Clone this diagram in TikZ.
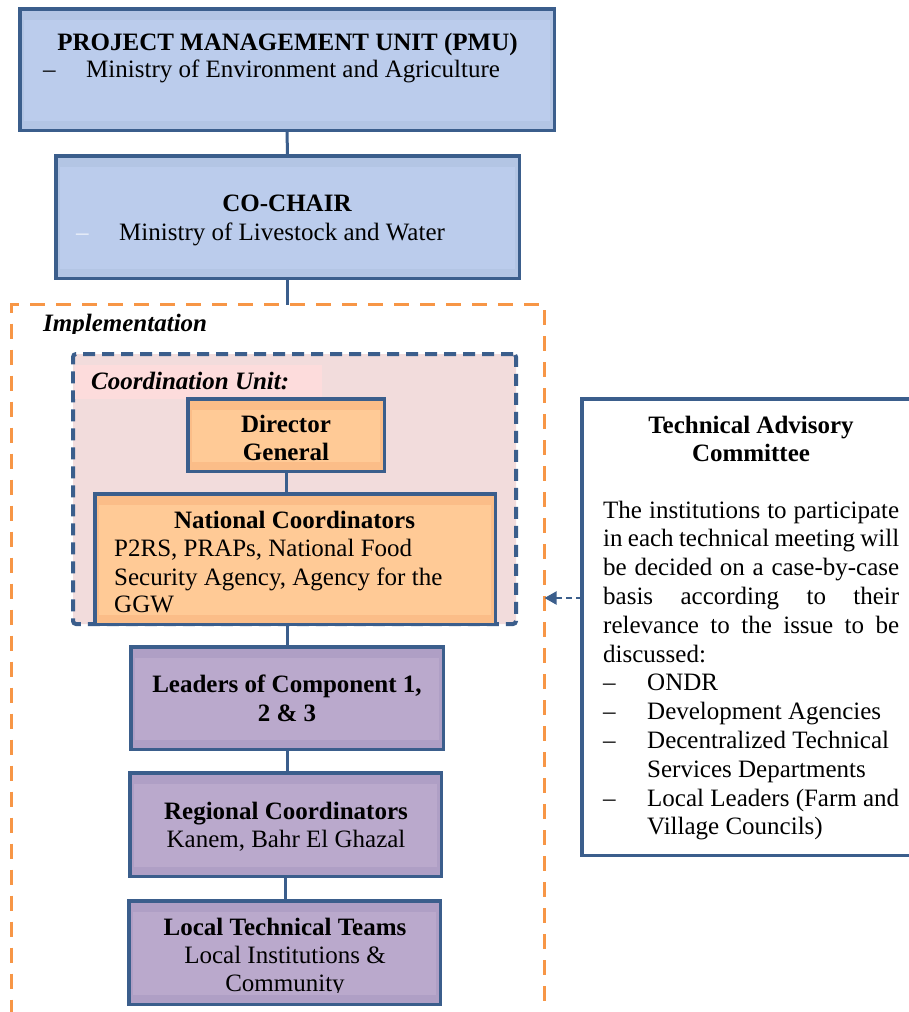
\documentclass[tikz,border=0pt]{standalone}
\usepackage{fontspec}
\setmainfont{Liberation Serif}
\usetikzlibrary{arrows.meta}
\definecolor{bdr}{HTML}{3B5E8C}
\definecolor{blueband}{HTML}{B3C5E4}
\definecolor{bluefill}{HTML}{BBCCEC}
\definecolor{orgband}{HTML}{FBBD88}
\definecolor{orgfill}{HTML}{FFCA96}
\definecolor{purband}{HTML}{AF9FC5}
\definecolor{purfill}{HTML}{BAA9CC}
\definecolor{cupink}{HTML}{F2DCDC}
\definecolor{lblpink}{HTML}{FDDCDC}
\definecolor{impor}{HTML}{F79646}
\newcommand\bigsz{\fontsize{25pt}{28.8pt}\selectfont}
\tikzset{
  box/.style={draw=bdr, line width=3.5pt, rectangle, inner sep=0pt, outer sep=0pt},
  shade3d/.style={path picture={\fill[#1] ([xshift=4pt,yshift=-11pt]path picture bounding box.north west) rectangle ([xshift=-4pt,yshift=9pt]path picture bounding box.south east);}},
  bluebox/.style={box, fill=blueband, shade3d=bluefill},
  orgbox/.style={box, fill=orgband, shade3d=orgfill},
  purbox/.style={box, fill=purband, shade3d=purfill},
  tacbox/.style={box, fill=white},
  cubox/.style={draw=bdr, line width=4pt, fill=cupink, dash pattern=on 12pt off 7pt, rounded corners=3pt, rectangle, inner sep=0pt, outer sep=0pt},
  implbox/.style={draw=impor, line width=3pt, dash pattern=on 15pt off 11pt, rectangle, inner sep=0pt, outer sep=0pt},
  conn/.style={draw=bdr, line width=3pt},
  arr/.style={draw=bdr, line width=2pt, dash pattern=on 6pt off 4pt, -{Triangle[length=12pt,width=13pt]}},
  txt/.style={anchor=base, inner sep=0pt},
  ltxt/.style={anchor=base west, inner sep=0pt},
  bold/.style={font=\bigsz\bfseries},
  bi/.style={font=\bigsz\bfseries\itshape},
}
\begin{document}
\begin{tikzpicture}[x=1pt,y=-1pt, font=\bigsz]
\useasboundingbox (0,0) rectangle (909,1012);
\fill[white] (0,0) rectangle (909,1012);

% frames
\node[implbox, minimum width=533pt, minimum height=735pt] (impl) at (278,672) {};
\node[cubox, minimum width=443pt, minimum height=270pt] (cu) at (294.5,489) {};
\fill[lblpink] (75,365) rectangle (322,399);

% boxes
\node[bluebox, minimum width=534.5pt, minimum height=121.5pt] (pmu) at (287,69.5) {};
\node[bluebox, minimum width=463.5pt, minimum height=122.5pt] (co) at (287.5,217) {};
\node[orgbox, minimum width=196.5pt, minimum height=72.5pt] (dg) at (286,435) {};
\node[orgbox, minimum width=400.5pt, minimum height=130.5pt] (nc) at (295,559) {};
\node[purbox, minimum width=312.5pt, minimum height=102.5pt] (lead) at (287,698) {};
\node[purbox, minimum width=311.5pt, minimum height=103.5pt] (reg) at (285.5,824.5) {};
\node[purbox, minimum width=311.5pt, minimum height=103.5pt] (loc) at (284.5,952.5) {};
\node[tacbox, minimum width=341.25pt, minimum height=456.5pt] (tac) at (752.4,627) {};

% connectors
\draw[conn] (pmu.south) -- (co.north);
\draw[conn] (co.south) -- (co.south |- impl.north);
\draw[conn] (dg.south) -- (dg.south |- nc.north);
\draw[conn] (lead.north |- nc.south) -- (lead.north);
\draw[conn] (lead.south) -- (lead.south |- reg.north);
\draw[conn] (reg.south) -- (reg.south |- loc.north);
\draw[arr] (tac.west |- 0,598) -- (impl.east |- 0,598);

% texts
\node[txt, bold] (t1) at (287.5,50) {PROJECT MANAGEMENT UNIT (PMU)};
\node[ltxt] (t2) at (43,77.3) {–};
\node[ltxt] (t3) at (86,77.3) {Ministry of Environment and Agriculture};

\node[txt, bold] (t4) at (287,211.7) {CO-CHAIR};
\node[ltxt, text=white!75!bluefill] (t5) at (76,240) {–};
\node[ltxt] (t6) at (119,240) {Ministry of Livestock and Water};

\begin{scope}
\clip (20,300) rectangle (400,333.5);
\node[ltxt, bi] (t7) at (43,331.5) {Implementation};
\end{scope}

\node[ltxt, bi] (t8) at (91,389) {Coordination Unit:};

\node[txt, bold] (t9) at (286,432.7) {Director};
\begin{scope}
\clip (190,440) rectangle (382,460.3);
\node[txt, bold] (t10) at (286,460.7) {General};
\end{scope}

\node[txt, bold] (t11) at (294.5,528.3) {National Coordinators};
\node[ltxt] (t12) at (114,556.7) {P2RS, PRAPs, National Food};
\node[ltxt] (t13) at (114,585.7) {Security Agency, Agency for the};
\begin{scope}
\clip (100,590) rectangle (490,613.3);
\node[ltxt] (t14) at (114,612.3) {GGW};
\end{scope}

\node[txt, bold] (t15) at (287,692) {Leaders of Component 1,};
\node[txt, bold] (t16) at (287,721.7) {2 \& 3};

\node[txt, bold] (t17) at (286,819) {Regional Coordinators};
\node[txt] (t18) at (286,847) {Kanem, Bahr El Ghazal};

\node[txt, bold] (t19) at (285,935.7) {Local Technical Teams};
\node[txt] (t20) at (285,963) {Local Institutions \&};
\begin{scope}
\clip (135,970) rectangle (435,992.8);
\node[txt] (t21) at (285,991.7) {Community};
\end{scope}

\node[txt, bold] (a1) at (751,433) {Technical Advisory};
\node[txt, bold] (a2) at (751,461.7) {Committee};
\node[ltxt] (a3) at (603,518.3) {\hbox to 296pt{The\hfill institutions\hfill to\hfill participate}};
\node[ltxt] (a4) at (603,546.9) {\hbox to 296pt{in\hfill each\hfill technical\hfill meeting\hfill will}};
\node[ltxt] (a5) at (603,575.7) {\hbox to 296pt{be\hfill decided\hfill on\hfill a\hfill case-by-case}};
\node[ltxt] (a6) at (603,604.6) {\hbox to 296pt{basis\hfill according\hfill to\hfill their}};
\node[ltxt] (a7) at (603,633.3) {\hbox to 296pt{relevance\hfill to\hfill the\hfill issue\hfill to\hfill be}};
\node[ltxt] (a8) at (603,662.1) {discussed:};
\foreach \yy/\tt [count=\i] in {690.9/ONDR, 719.7/Development Agencies, 748.5/Decentralized Technical, 806.1/Local Leaders (Farm and}{
  \node[ltxt] (d\i) at (603,\yy) {–};
  \node[ltxt] (b\i) at (647,\yy) {\tt};
}
\node[ltxt] (b5) at (647,777.3) {Services Departments};
\node[ltxt] (b6) at (647,834.9) {Village Councils)};
\end{tikzpicture}
\end{document}
